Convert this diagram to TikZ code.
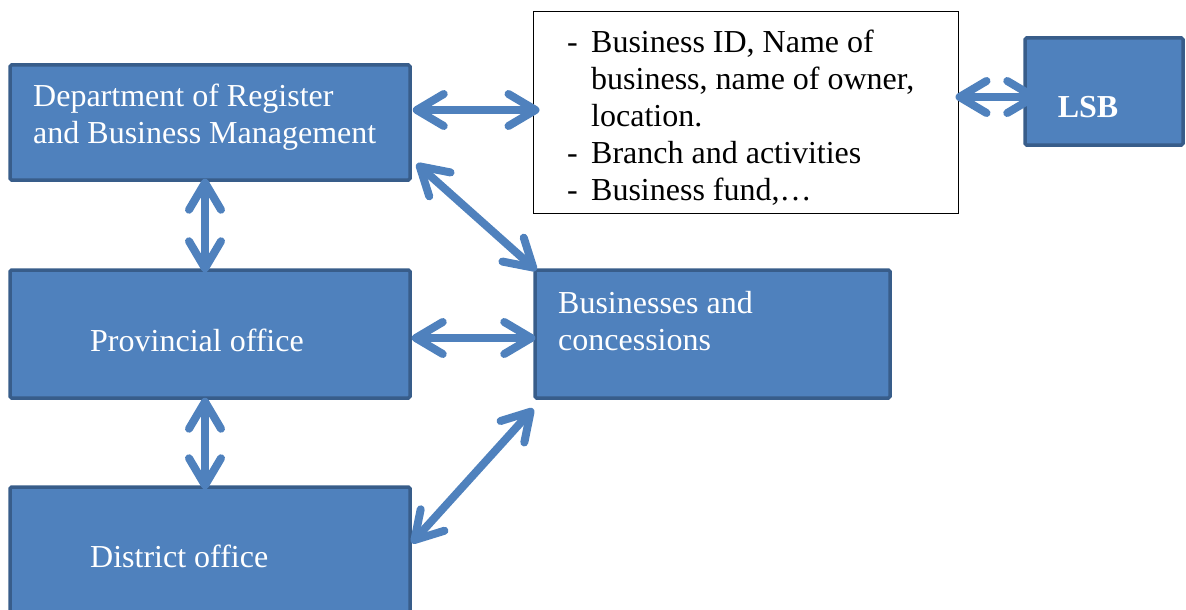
\documentclass[tikz,border=0pt]{standalone}
\usepackage{fontspec}
\setmainfont{Liberation Serif}
\usetikzlibrary{arrows.meta,calc}
\definecolor{boxfill}{HTML}{4F81BD}
\definecolor{boxline}{HTML}{385D8A}
\definecolor{arrowc}{HTML}{4F81BD}
\tikzset{
  bluebox/.style={draw=boxline, fill=boxfill, line width=3.5pt, rounded corners=1.5pt, inner sep=0pt},
  wtext/.style={text=white, inner sep=0pt, align=left, font=\fontsize{32}{37}\selectfont},
  dbl/.style={draw=arrowc, line width=8pt, line cap=round,
    {Straight Barb[length=27pt,width=32pt,round]}-{Straight Barb[length=27pt,width=32pt,round]}}
}
\begin{document}
\begin{tikzpicture}[x=1pt,y=-1pt]
\useasboundingbox (0,0) rectangle (1186,610);
% boxes
\node[bluebox, minimum width=400pt, minimum height=115pt] (dept) at (210,122.5) {};
\node[bluebox, minimum width=400pt, minimum height=128pt] (prov) at (210,334) {};
\node[bluebox, minimum width=400pt, minimum height=130pt] (dist) at (210,552) {};
\node[bluebox, minimum width=355pt, minimum height=128pt] (bus) at (712.5,334) {};
\node[bluebox, minimum width=158pt, minimum height=107pt] (lsb) at (1104,91.5) {};
\node[draw=black, line width=1pt, fill=white, minimum width=425pt, minimum height=201pt, inner sep=0pt] (info) at (745.5,112.5) {};
% texts
\node[wtext, anchor=west] (depttxt) at (33,117) {Department of Register\\and Business Management};
\node[wtext, anchor=west] (provtxt) at (90,340) {Provincial office};
\node[wtext, anchor=west] (disttxt) at (90,556) {District office};
\node[wtext, anchor=west] (bustxt) at (558,321) {Businesses and\\concessions};
\node[wtext, font=\fontsize{32}{37}\selectfont\bfseries] (lsbtxt) at (1088,107) {LSB};
\node[inner sep=0pt, anchor=north west, font=\fontsize{32}{37}\selectfont] (infotxt) at (567,26.6)
  {\begin{tabular}{@{}p{24pt}@{}l@{}}
   - & Business ID, Name of\\
     & business, name of owner,\\
     & location.\\
   - & Branch and activities\\
   - & Business fund,\ldots
   \end{tabular}};
% arrows
\draw[dbl] ($(dept.east)+(1,-12.5)$) -- ($(info.west)+(7,-2.5)$);
\draw[dbl] ($(info.east)+(-3,-15.5)$) -- ($(lsb.west)+(15,5.5)$);
\draw[dbl] ($(dept.south east)+(5,-18)$) -- ($(bus.north west)+(3,2)$);
\draw[dbl] ($(dept.south)+(-5,-3)$) -- ($(prov.north)+(-5,4)$);
\draw[dbl] ($(prov.east)+(0,4)$) -- ($(bus.west)+(2,4)$);
\draw[dbl] ($(prov.south)+(-5,-2)$) -- ($(dist.north)+(-5,4)$);
\draw[dbl] ($(dist.east)+(0,-9)$) -- ($(bus.south west)+(0,9)$);
\end{tikzpicture}
\end{document}
